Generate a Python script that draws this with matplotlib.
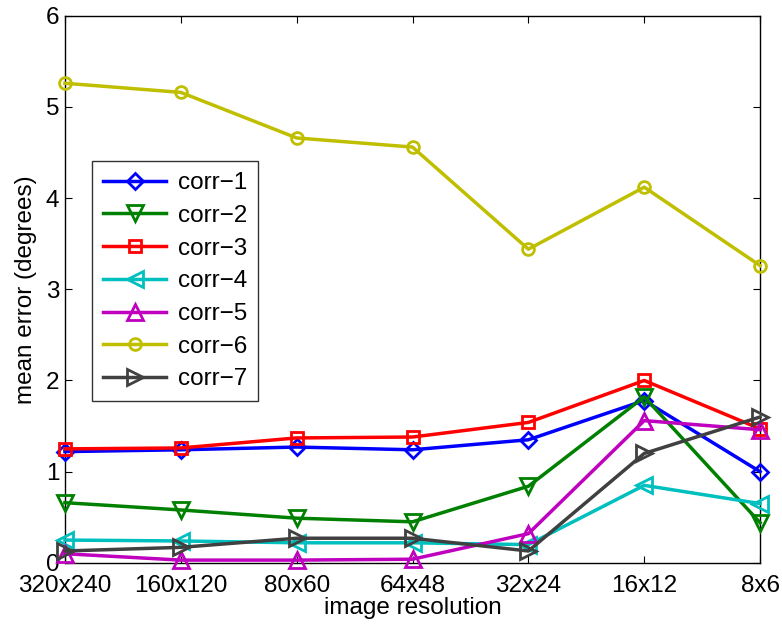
import matplotlib
matplotlib.use("Agg")
import matplotlib.pyplot as plt

plt.rcParams['font.family'] = ['Liberation Sans', 'DejaVu Sans']

resolutions = ["320x240", "160x120", "80x60", "64x48", "32x24", "16x12", "8x6"]

corr1 = [1.22, 1.24, 1.27, 1.24, 1.35, 1.78, 1.00]
corr2 = [0.66, 0.58, 0.49, 0.45, 0.84, 1.82, 0.44]
corr3 = [1.25, 1.26, 1.37, 1.38, 1.54, 2.00, 1.47]
corr4 = [0.25, 0.24, 0.22, 0.22, 0.20, 0.85, 0.65]
corr5 = [0.10, 0.03, 0.03, 0.04, 0.32, 1.56, 1.46]
corr6 = [5.26, 5.16, 4.66, 4.56, 3.44, 4.12, 3.26]
corr7 = [0.13, 0.17, 0.27, 0.27, 0.13, 1.20, 1.60]

series = [
    ("corr\u22121", corr1, (0, 0, 1), "D", 8.5),
    ("corr\u22122", corr2, (0, 0.5, 0), "v", 11),
    ("corr\u22123", corr3, (1, 0, 0), "s", 8.5),
    ("corr\u22124", corr4, (0, 0.75, 0.75), "<", 11),
    ("corr\u22125", corr5, (0.75, 0, 0.75), "^", 11),
    ("corr\u22126", corr6, (0.75, 0.75, 0), "o", 8.5),
    ("corr\u22127", corr7, (0.25, 0.25, 0.25), ">", 11),
]

fig = plt.figure(figsize=(7.82, 6.31), dpi=100)
ax = fig.add_axes([0.083, 0.108, 0.889, 0.867])

x = list(range(len(resolutions)))
for label, vals, color, marker, ms in series:
    ax.plot(x, vals, color=color, linewidth=2.5, marker=marker, markersize=ms,
            markerfacecolor='none', markeredgecolor=color, markeredgewidth=2.0,
            label=label, clip_on=False, zorder=3)

ax.set_xlim(0, 6)
ax.set_ylim(0, 6)
ax.set_xticks(x)
ax.set_xticklabels(resolutions)
ax.set_yticks(range(7))
ax.tick_params(direction='in', top=True, right=True, labelsize=17.5, length=5,
               width=0.8)
ax.tick_params(axis='x', pad=9)
ax.tick_params(axis='y', pad=4)
for s in ax.spines.values():
    s.set_linewidth(1.0)

ax.set_xlabel("image resolution", fontsize=17.5, labelpad=0)
ax.set_ylabel("mean error (degrees)", fontsize=17.5, labelpad=6)

leg = ax.legend(loc='upper left', bbox_to_anchor=(0.039, 0.734), fontsize=17.5,
                frameon=True, fancybox=False, edgecolor='black', handlelength=2.6,
                borderpad=0.45, labelspacing=0.44, handletextpad=0.5,
                borderaxespad=0)
leg.get_frame().set_linewidth(1.0)

fig.savefig("out.png", dpi=100)
